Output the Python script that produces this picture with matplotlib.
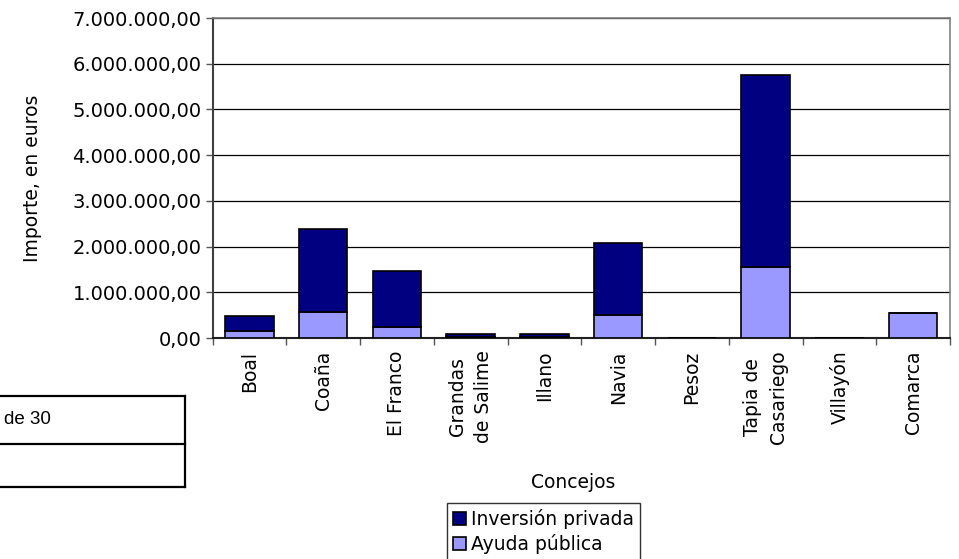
import matplotlib
matplotlib.use("Agg")
import matplotlib.pyplot as plt
from matplotlib.lines import Line2D
from matplotlib.ticker import FuncFormatter, FixedLocator, NullFormatter
import numpy as np

categories = ["Boal", "Coaña", "El Franco", "Grandas\nde Salime", "Illano",
              "Navia", "Pesoz", "Tapia de\nCasariego", "Villayón", "Comarca"]
ayuda_publica = [160000, 575000, 240000, 30000, 30000, 500000, 0, 1560000, 0, 550000]
inversion_privada = [320000, 1805000, 1220000, 50000, 50000, 1580000, 0, 4190000, 0, 0]
yticks = [0, 1000000, 2000000, 3000000, 4000000, 5000000, 6000000, 7000000]

plt.rcParams['font.family'] = ['DejaVu Sans']
fig = plt.figure(figsize=(9.59, 5.59), dpi=100)
ax = fig.add_axes([212.5/959, 1-338/559, (950-212.5)/959, (338-18)/559])

FS = 14
x = np.arange(len(categories))
navy = "#000080"
lilac = "#9999FF"
ax.bar(x, ayuda_publica, width=0.66, color=lilac, edgecolor="black", linewidth=1.2,
       label="Ayuda pública", zorder=3)
ax.bar(x, inversion_privada, width=0.66, bottom=ayuda_publica, color=navy,
       edgecolor="black", linewidth=1.2, label="Inversión privada", zorder=3)

ax.set_xlim(-0.5, len(categories) - 0.5)
ax.set_ylim(0, 7000000)
ax.set_yticks(yticks)
ax.yaxis.set_major_formatter(FuncFormatter(
    lambda v, p: f"{v:,.2f}".replace(",", "X").replace(".", ",").replace("X", ".")))
ax.grid(axis="y", color="black", linewidth=0.9, zorder=0)
ax.set_xticks(x)
ax.set_xticklabels(categories, rotation=90, fontsize=FS - 0.5, linespacing=1.45,
                   va="top", ha="center")
ax.tick_params(axis="x", which="major", length=0, pad=9)
ax.xaxis.set_minor_locator(FixedLocator(np.arange(-0.5, len(categories) + 0.5, 1)))
ax.xaxis.set_minor_formatter(NullFormatter())
ax.tick_params(axis="x", which="minor", length=5, width=1, color="#555555")
ax.tick_params(axis="y", length=5, width=1, color="#555555", labelsize=FS, pad=3)

for s in ["top", "right"]:
    ax.spines[s].set_color("#808080")
    ax.spines[s].set_linewidth(1.2)
ax.spines["left"].set_color("#404040")
ax.spines["left"].set_linewidth(1.5)
ax.spines["bottom"].set_color("#202020")
ax.spines["bottom"].set_linewidth(1.5)

ax.set_ylabel("Importe, en euros", fontsize=FS - 0.5, labelpad=22)
fig.text(573/959, 1-482/559, "Concejos", fontsize=FS - 0.5, ha="center", va="center")

handles, labels = ax.get_legend_handles_labels()
leg = fig.legend(handles[::-1], labels[::-1], loc="upper left",
                 bbox_to_anchor=(447/959, 1-503/559), fontsize=FS - 0.5,
                 frameon=True, fancybox=False, edgecolor="black",
                 handlelength=0.7, handleheight=0.7, handletextpad=0.3,
                 borderpad=0.3, labelspacing=0.3, borderaxespad=0)
leg.get_frame().set_linewidth(1.0)

# table fragment at lower left
lw = 1.6
fig.add_artist(Line2D([0, 185/959], [1-396/559, 1-396/559], color="black", lw=lw))
fig.add_artist(Line2D([0, 185/959], [1-444/559, 1-444/559], color="black", lw=lw))
fig.add_artist(Line2D([0, 185/959], [1-487/559, 1-487/559], color="black", lw=lw))
fig.add_artist(Line2D([185/959, 185/959], [1-396/559, 1-487/559], color="black", lw=lw))
fig.text(4/959, 1-420/559, "de 30", fontsize=13.5, family="Liberation Sans",
         ha="left", va="center")

fig.savefig("out.png", dpi=100)
